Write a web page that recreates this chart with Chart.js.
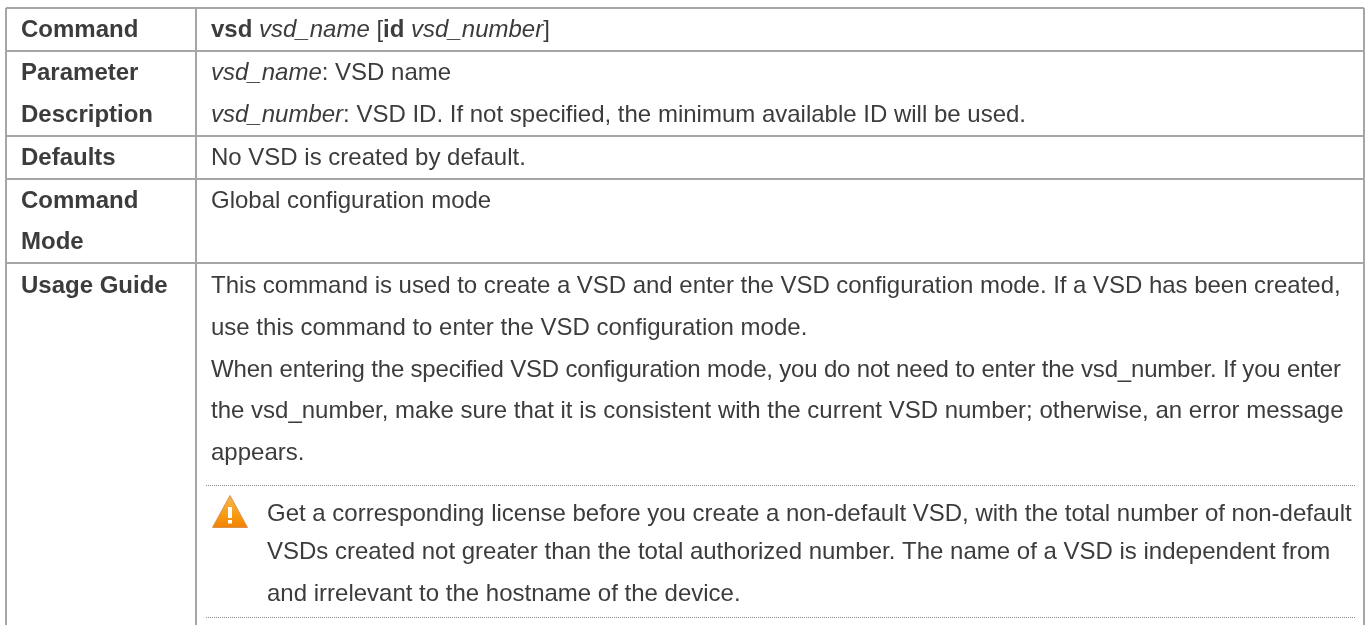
<!DOCTYPE html>
<html>

<head>
    <meta charset="UTF-8">
    <title>VSD command</title>
    <script src="https://cdn.jsdelivr.net/npm/chart.js@4/dist/chart.umd.min.js"></script>
    <style>
        html, body { margin: 0; padding: 0; background: #fff; overflow: hidden; }
        #wrap { width: 1365px; height: 625px; }
    </style>
</head>

<body>
    <div id="wrap"><canvas id="canvas_tabela"></canvas></div>

    <script>
        // table rules, in page pixels
        var col_edges = [6, 196, 1364]
        var row_edges = [8, 51, 136, 179, 263]
        var note_rules = [485.5, 617.5]

        // first column
        var head_text = ["Command", "Parameter", "Description", "Defaults", "Command", "Mode", "Usage Guide"]
        var head_y = [37, 80, 122, 165, 208, 249, 293]

        // second column, *italic* and **bold** marks
        var body_text = [
            "**vsd** *vsd_name* [**id** *vsd_number*]",
            "*vsd_name*: VSD name",
            "*vsd_number*: VSD ID. If not specified, the minimum available ID will be used.",
            "No VSD is created by default.",
            "Global configuration mode",
            "This command is used to create a VSD and enter the VSD configuration mode. If a VSD has been created,",
            "use this command to enter the VSD configuration mode.",
            "When entering the specified VSD configuration mode, you do not need to enter the vsd_number. If you enter",
            "the vsd_number, make sure that it is consistent with the current VSD number; otherwise, an error message",
            "appears."
        ]
        var body_y = [37, 80, 122, 165, 208, 293, 335, 377, 418, 460]
        // the source text is justified, these two lines run a bit tighter
        var body_spacing = [0, 0, 0, 0, 0, -0.03, 0, -0.18, 0, 0]

        var note_text = [
            "Get a corresponding license before you create a non-default VSD, with the total number of non-default",
            "VSDs created not greater than the total authorized number. The name of a VSD is independent from",
            "and irrelevant to the hostname of the device."
        ]
        var note_y = [521, 559, 601]

        var icon_x = [230]
        var icon_y = [512]

        var head_x = 21
        var body_x = 211
        var note_x = 267
        var tamanho = 24
        var cor_texto = "#3c3c3c"

        function xy(xs, ys) {
            return ys.map(function (y, i) {
                return { x: Array.isArray(xs) ? xs[i] : xs, y: y }
            })
        }

        // warning triangle used as point style
        function icone_aviso() {
            var c = document.createElement("canvas")
            c.width = 38
            c.height = 36
            var g = c.getContext("2d")
            var grad = g.createLinearGradient(0, 0, 0, 36)
            grad.addColorStop(0, "#f9b850")
            grad.addColorStop(0.6, "#f79a10")
            grad.addColorStop(1, "#f27c00")
            g.fillStyle = grad
            g.strokeStyle = "#dc9350"
            g.lineWidth = 1
            g.lineJoin = "round"
            g.beginPath()
            g.moveTo(19, 1.5)
            g.lineTo(36.5, 33.5)
            g.lineTo(1.5, 33.5)
            g.closePath()
            g.fill()
            g.stroke()
            g.fillStyle = "#fff"
            g.fillRect(17, 13, 4, 11)
            g.fillRect(17, 26, 4, 3.5)
            return c
        }

        function escreve_linha(ctx, linha, x, y, espaco) {
            var partes = linha.split(/(\*\*[^*]+\*\*|\*[^*]+\*)/)
            ctx.letterSpacing = (espaco || 0) + "px"
            partes.forEach(function (p) {
                if (!p) return
                var estilo = ""
                if (p.startsWith("**")) { estilo = "bold "; p = p.slice(2, -2) }
                else if (p.startsWith("*")) { estilo = "italic "; p = p.slice(1, -1) }
                ctx.font = estilo + tamanho + "px 'Liberation Sans'"
                ctx.fillText(p, x, y)
                x += ctx.measureText(p).width
            })
        }

        var plugin_texto = {
            id: "texto_tabela",
            afterDatasetsDraw: function (chart) {
                var ctx = chart.ctx
                ctx.save()
                ctx.fillStyle = cor_texto
                ctx.textBaseline = "alphabetic"
                chart.data.datasets.forEach(function (ds) {
                    if (!ds.linhas) return
                    ds.data.forEach(function (p, i) {
                        var px = chart.scales.x.getPixelForValue(p.x)
                        var py = chart.scales.y.getPixelForValue(p.y)
                        escreve_linha(ctx, ds.linhas[i], px, py, ds.espacos ? ds.espacos[i] : 0)
                    })
                })
                ctx.restore()
            }
        }

        var datasets = [
            { label: "head", data: xy(head_x, head_y), linhas: head_text.map(function (t) { return "**" + t + "**" }), pointRadius: 0 },
            { label: "body", data: xy(body_x, body_y), linhas: body_text, espacos: body_spacing, pointRadius: 0 },
            { label: "note", data: xy(note_x, note_y), linhas: note_text, pointRadius: 0 },
            { label: "icon", data: xy(icon_x, icon_y), pointStyle: icone_aviso(), pointRadius: 18 }
        ]

        // dotted rules around the note
        note_rules.forEach(function (y) {
            datasets.push({
                type: "line",
                label: "rule",
                data: [{ x: 206, y: y }, { x: 1355, y: y }],
                borderColor: "#8c8c8c",
                borderWidth: 1,
                borderDash: [1, 1],
                pointRadius: 0
            })
        })

        new Chart(document.getElementById("canvas_tabela"), {
            type: "scatter",
            data: { datasets: datasets },
            plugins: [plugin_texto],
            options: {
                responsive: true,
                maintainAspectRatio: false,
                animation: false,
                layout: { autoPadding: false, padding: { left: 6, right: 1, top: 8, bottom: 0 } },
                plugins: { legend: { display: false }, tooltip: { enabled: false } },
                scales: {
                    x: {
                        type: "linear",
                        min: 6,
                        max: 1364,
                        afterBuildTicks: function (s) { s.ticks = col_edges.map(function (v) { return { value: v } }) },
                        ticks: { display: false },
                        border: { display: false },
                        grid: { color: "#a6a6a6", lineWidth: 2, drawTicks: false }
                    },
                    y: {
                        type: "linear",
                        reverse: true,
                        min: 8,
                        max: 625,
                        afterBuildTicks: function (s) { s.ticks = row_edges.map(function (v) { return { value: v } }) },
                        ticks: { display: false },
                        border: { display: false },
                        grid: { color: "#a6a6a6", lineWidth: 2, drawTicks: false }
                    }
                }
            }
        })
    </script>
</body>

</html>
